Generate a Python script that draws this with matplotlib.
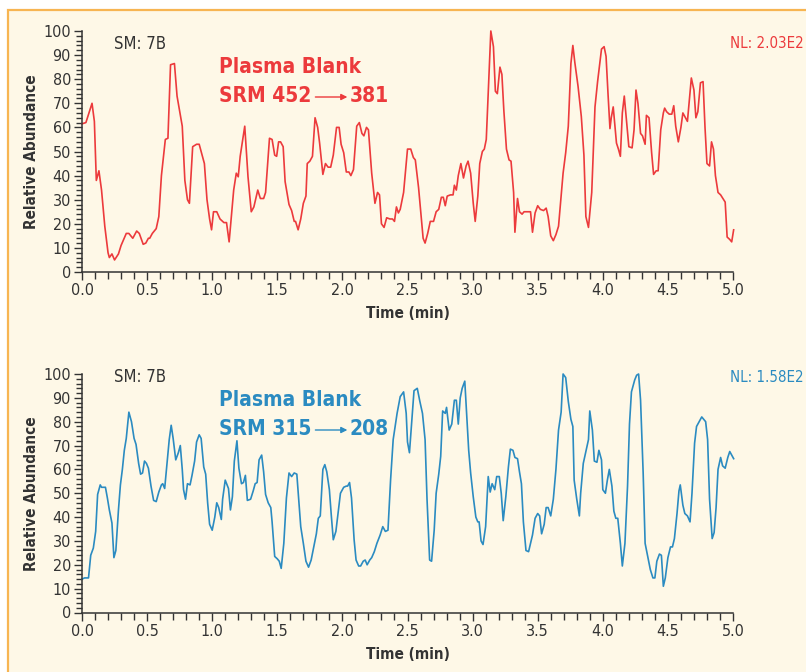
import matplotlib
matplotlib.use("Agg")
import matplotlib.pyplot as plt
from matplotlib import font_manager
from matplotlib.patches import Rectangle, FancyArrowPatch
from matplotlib.ticker import MultipleLocator

# pick a condensed font if one is around
fonts = font_manager.fontManager.ttflist
names = {f.name for f in fonts}
if "Liberation Sans Narrow" in names:
    plt.rcParams['font.family'] = ['Liberation Sans Narrow', 'DejaVu Sans']
elif any(f.name == "DejaVu Sans" and str(f.stretch) == "condensed" for f in fonts):
    plt.rcParams['font.family'] = ['DejaVu Sans']
    plt.rcParams['font.stretch'] = 'condensed'
else:
    plt.rcParams['font.family'] = ['Roboto', 'DejaVu Sans']

# SRM 452 -> 381 trace (time in min, relative abundance)
t_452 = [0.0, 0.03, 0.077, 0.095, 0.11, 0.13, 0.15, 0.175, 0.2, 0.21, 0.23, 0.25, 0.28, 0.30,
         0.34, 0.36, 0.39, 0.42, 0.44, 0.47, 0.49, 0.51, 0.52, 0.54, 0.57, 0.59, 0.61, 0.64,
         0.66, 0.68, 0.71, 0.73, 0.77, 0.79, 0.81, 0.825, 0.85, 0.88, 0.90, 0.94, 0.96, 0.98,
         0.995, 1.01, 1.035, 1.06, 1.09, 1.11, 1.13, 1.15, 1.165, 1.185, 1.2, 1.215, 1.25,
         1.275, 1.30, 1.32, 1.35, 1.37, 1.395, 1.41, 1.44, 1.46, 1.48, 1.495, 1.51, 1.525,
         1.545, 1.56, 1.59, 1.61, 1.63, 1.64, 1.66, 1.68, 1.70, 1.72, 1.73, 1.75, 1.77, 1.79,
         1.81, 1.825, 1.85, 1.87, 1.89, 1.91, 1.93, 1.955, 1.975, 1.99, 2.01, 2.03, 2.05,
         2.065, 2.085, 2.11, 2.13, 2.15, 2.165, 2.185, 2.2, 2.225, 2.25, 2.27, 2.285, 2.30,
         2.32, 2.34, 2.365, 2.385, 2.40, 2.415, 2.43,
         2.444, 2.47, 2.5, 2.525, 2.545, 2.56, 2.585, 2.62, 2.635, 2.655, 2.675, 2.70, 2.72,
         2.74, 2.76, 2.775, 2.79, 2.805, 2.83, 2.85, 2.86, 2.875, 2.89, 2.91, 2.93, 2.95,
         2.965, 2.985, 3.005, 3.02, 3.04, 3.055, 3.075, 3.09, 3.105, 3.12, 3.14, 3.16, 3.175,
         3.19, 3.21, 3.225, 3.24, 3.26, 3.28, 3.295, 3.315, 3.325, 3.345, 3.36, 3.38, 3.395,
         3.43, 3.445, 3.46, 3.48, 3.5, 3.52, 3.545, 3.565, 3.58, 3.60, 3.62, 3.64, 3.66,
         3.675, 3.695, 3.715, 3.735, 3.755, 3.77, 3.785, 3.81, 3.835, 3.855, 3.87, 3.89,
         3.915, 3.94, 3.96, 3.98, 3.99, 4.01, 4.025, 4.04, 4.055, 4.065, 4.08, 4.105, 4.12,
         4.135, 4.15, 4.165, 4.18, 4.2, 4.225, 4.24, 4.255, 4.27, 4.29, 4.305, 4.325, 4.335,
         4.355, 4.375, 4.39, 4.41, 4.425, 4.445, 4.465, 4.475, 4.49, 4.51, 4.53, 4.545, 4.56,
         4.58, 4.6, 4.615, 4.63, 4.65, 4.665, 4.68, 4.70, 4.715, 4.73, 4.75, 4.77, 4.785,
         4.80, 4.82, 4.835, 4.85, 4.865, 4.885, 4.905, 4.94, 4.955, 4.975, 4.99, 5.005]
v_452 = [61.5, 62, 70, 62.5, 38, 42, 34, 19, 8, 6, 7.5, 5, 7.5, 11,
         16, 16, 14, 17, 16, 11.5, 12, 14, 14, 16, 18, 23, 40, 55,
         55.5, 86, 86.5, 73, 60.5, 38, 30, 28.5, 52, 53, 53, 45, 30, 22,
         17.5, 25, 25, 22, 20.5, 20.5, 12.5, 24.5, 34, 41, 39.5, 48, 60.5,
         39.5, 25, 27, 34, 30.5, 30.5, 33, 55.5, 55, 48.5, 48, 54, 54,
         52, 37.5, 28, 25.5, 21, 21, 17.5, 22, 28.5, 31.5, 45, 46, 48, 64,
         60, 53.5, 40.5, 45, 43.5, 43.5, 48.5, 60, 60, 53, 49.5, 41.5, 41.5,
         40, 42.5, 60.5, 62, 57.5, 56.5, 60, 59, 41, 28.5, 33, 32, 20,
         18.5, 22.5, 22, 22, 21, 27, 24.5,
         26, 33, 51, 51, 47.5, 46.5, 35, 14, 12, 16, 21, 21, 25,
         26, 31, 31, 27.5, 31.5, 32, 32, 36, 34, 40, 45, 39, 44,
         46, 41, 28.5, 21, 31.5, 45, 50, 51, 55, 74, 100, 93.5, 75,
         74, 85, 82, 67, 51, 46.5, 46, 33, 16.5, 30.5, 25, 24, 25,
         25, 25, 16.5, 24.5, 27.5, 26, 25.5, 26.5, 23, 15, 13, 15.5, 19,
         28.5, 41, 49.5, 60.5, 86.5, 94, 87, 77, 64.5, 48.5, 23, 18.5,
         33, 68.5, 79, 88, 92.5, 93.5, 89.5, 74, 59.5, 64, 68.5, 53.5, 51,
         48, 66, 73, 64, 52, 51.5, 59, 75.5, 70, 57.5, 56.5, 53, 65,
         64, 49.5, 40.5, 42, 42, 59, 66, 68, 66.5, 65.5, 65.5, 69, 60.5,
         54, 60, 66, 64.5, 62.5, 71.5, 80.5, 75.5, 64, 66.5, 78.5, 79, 60,
         45, 44, 54, 51, 40, 33, 32, 29, 14.5, 13.5, 12.5, 17.5]

# SRM 315 -> 208 trace
t_315 = [0.0, 0.02, 0.05, 0.067, 0.087, 0.105, 0.12, 0.14, 0.15, 0.18, 0.195, 0.21, 0.23, 0.245,
         0.26, 0.28, 0.295, 0.31, 0.325, 0.34, 0.36, 0.38, 0.40, 0.415, 0.435, 0.45, 0.465,
         0.48, 0.495, 0.51, 0.53, 0.55, 0.57, 0.59, 0.61, 0.62, 0.635, 0.65, 0.67, 0.685, 0.70,
         0.72, 0.74, 0.755, 0.77, 0.78, 0.795, 0.81, 0.83, 0.845, 0.865, 0.88, 0.90, 0.915,
         0.935, 0.95, 0.965, 0.98, 1.0, 1.02, 1.035, 1.05, 1.07, 1.08, 1.10, 1.125, 1.14,
         1.155, 1.17, 1.19, 1.205, 1.225, 1.24, 1.255, 1.27, 1.295, 1.315, 1.33, 1.345, 1.36,
         1.38, 1.395, 1.41, 1.43, 1.45, 1.46, 1.48, 1.50, 1.515, 1.53, 1.55, 1.57, 1.59, 1.61,
         1.63, 1.65, 1.665, 1.68, 1.70, 1.72, 1.74, 1.76, 1.78, 1.80, 1.815, 1.83, 1.85,
         1.865, 1.88, 1.90, 1.915, 1.93, 1.95, 1.97, 1.985, 2.01, 2.03, 2.04, 2.055, 2.07,
         2.09, 2.105, 2.125, 2.14, 2.16, 2.175, 2.19, 2.21, 2.225, 2.245, 2.265, 2.29, 2.31,
         2.33, 2.35, 2.37, 2.39, 2.42,
         2.444, 2.47, 2.49, 2.5, 2.515, 2.535, 2.55, 2.575, 2.595, 2.615, 2.635, 2.65, 2.67,
         2.685, 2.705, 2.72, 2.74, 2.755, 2.77, 2.79, 2.80, 2.82, 2.84, 2.86, 2.875, 2.89,
         2.905, 2.92, 2.94, 2.97, 2.985, 3.005, 3.025, 3.04, 3.05, 3.065, 3.08, 3.10, 3.12,
         3.135, 3.15, 3.17, 3.185, 3.205, 3.22, 3.235, 3.255, 3.275, 3.29, 3.31, 3.325,
         3.345, 3.36, 3.375, 3.39, 3.41, 3.43, 3.445, 3.46, 3.48, 3.50, 3.515, 3.53, 3.55,
         3.565, 3.58, 3.60, 3.62, 3.64, 3.66, 3.68, 3.695, 3.715, 3.735, 3.755, 3.77, 3.78,
         3.80, 3.82, 3.83, 3.85, 3.87, 3.89, 3.90, 3.92, 3.935, 3.955, 3.97, 3.99, 4.0, 4.02,
         4.035, 4.05, 4.07, 4.085, 4.10, 4.115, 4.135, 4.15, 4.17, 4.19, 4.205, 4.22, 4.245,
         4.26, 4.275, 4.29, 4.31, 4.325, 4.345, 4.365, 4.385, 4.40, 4.415, 4.435, 4.45,
         4.465, 4.48, 4.50, 4.52, 4.535, 4.55, 4.57, 4.585, 4.595, 4.615, 4.63, 4.65, 4.67,
         4.685, 4.705, 4.72, 4.74, 4.76, 4.775, 4.79, 4.805, 4.82, 4.84, 4.855, 4.87, 4.885,
         4.905, 4.92, 4.94, 4.96, 4.975, 4.99, 5.005]
v_315 = [14, 14.5, 14.5, 24, 27, 34, 49.5, 53.5, 52.5, 52.5, 48, 43, 37.5, 23,
         26, 43, 53.5, 60, 68, 73, 84, 80, 73, 70.5, 62.5, 58, 58.5,
         63.5, 62.5, 60.5, 53, 47, 46.5, 50.5, 53.5, 54, 52, 61, 72.5, 78.5, 73,
         64, 67, 70, 60, 51.5, 47.5, 54, 53.5, 57.5, 63.5, 71.5, 74.5, 73,
         61, 58, 46, 37, 34.5, 40, 46, 44, 39, 47.5, 55.5, 52, 43,
         48.5, 63.5, 72, 60.5, 54, 54.5, 57.5, 47, 47.5, 51, 54, 54.5, 64,
         66, 59, 49.5, 46, 44, 38, 23.5, 22.5, 21.5, 18.5, 29, 48, 58.5, 57,
         58.5, 58, 47, 36, 29, 21.5, 19, 22, 27.5, 33, 39.5, 40.5, 60,
         62, 59, 51.5, 40.5, 30.5, 34, 43, 50, 52.5, 53, 53, 54.5, 48,
         30.5, 22, 19.5, 19.5, 21.5, 22, 20, 22, 23, 25.5, 29, 32.5, 36,
         34, 34.5, 55.5, 72.5, 83.5,
         90.5, 92.5, 83.5, 71.5, 67, 82, 93, 94, 88.5, 83.5, 72.5, 47.5, 22,
         21.5, 34.5, 50, 58, 65.5, 84.5, 83.5, 86, 76.5, 79, 89, 89, 79,
         90, 94, 97, 68, 58.5, 48.5, 40, 38, 38, 30, 28.5, 36, 57,
         50.5, 54, 51.5, 57, 57, 50, 38.5, 48.5, 61, 68.5, 68, 65,
         64.5, 59, 54, 38, 26, 25.5, 29, 32.5, 39.5, 41.5, 40.5, 33, 37,
         44, 44, 40.5, 47.5, 60, 76.5, 84, 100, 98.5, 88.5, 81, 78, 55.5,
         47.5, 40.5, 50, 62.5, 67.5, 72.5, 84.5, 76.5, 63.5, 63, 68, 64, 51.5, 50,
         55.5, 60, 53, 42.5, 39.5, 39.5, 29, 19.5, 29, 53, 79, 92.5, 97.5,
         99.5, 100, 89, 58.5, 29, 23.5, 18, 14.5, 14.5, 21.5, 24.5, 24,
         11, 14.5, 23, 27.5, 27.5, 31, 41.5, 51, 53.5, 45, 41.5, 40.5, 38,
         50, 71, 78, 80, 82, 81, 80, 72.5, 47.5, 31, 33.5, 44, 60,
         65, 61.5, 60.5, 65, 67.5, 66, 64.5]

RED = "#ec3a3c"
BLUE = "#2b8bc1"
INK = "#333333"
W, H = 806, 672


def fx(px):
    return px / W


def fy(py):
    return 1 - py / H


fig = plt.figure(figsize=(W / 100, H / 100), dpi=100, facecolor="white")
renderer = fig.canvas.get_renderer()

# cream panel with orange rule on left and top
fig.patches.append(Rectangle((fx(8), -0.1), 1.2, fy(10) + 0.1, transform=fig.transFigure,
                             facecolor="#fef8e7", edgecolor="#f7b552", linewidth=1.6, zorder=-5))


def panel(rect, t, v, color, srm_a, srm_b, nl, text_y):
    ax = fig.add_axes(rect)
    ax.patch.set_visible(False)
    ax.plot(t, v, color=color, lw=1.2, solid_joinstyle="round", clip_on=False)
    ax.set_xlim(0, 5.0)
    ax.set_ylim(0, 100)
    ax.xaxis.set_major_locator(MultipleLocator(0.5))
    ax.xaxis.set_minor_locator(MultipleLocator(0.1))
    ax.yaxis.set_major_locator(MultipleLocator(10))
    ax.yaxis.set_minor_locator(MultipleLocator(2))
    ax.xaxis.set_major_formatter(lambda x, p: f"{x:.1f}")
    for s in ["top", "right"]:
        ax.spines[s].set_visible(False)
    for s in ["left", "bottom"]:
        ax.spines[s].set_color(INK)
        ax.spines[s].set_linewidth(1.1)
    ax.tick_params(which="both", direction="out", color=INK, width=1.0, labelcolor=INK)
    ax.tick_params(which="major", length=6, labelsize=11.5, pad=2)
    ax.tick_params(axis="y", which="minor", length=4)
    ax.tick_params(axis="x", which="minor", length=5)
    ax.set_ylabel("Relative Abundance", fontsize=11, fontweight="bold", color=INK, labelpad=3)
    ax.set_xlabel("Time (min)", fontsize=11, fontweight="bold", color=INK, labelpad=6)

    fig.text(fx(114), fy(text_y), "SM: 7B", fontsize=12, color=INK, va="center")
    fig.text(fx(730), fy(text_y), nl, fontsize=10.8, color=color, va="center")
    fig.text(fx(219), fy(text_y + 23), "Plasma Blank", fontsize=15, fontweight="bold",
             color=color, va="center")
    a = fig.text(fx(219), fy(text_y + 52), srm_a, fontsize=15, fontweight="bold",
                 color=color, va="center")
    x_end = a.get_window_extent(renderer).x1
    x0, x1 = x_end + 4, x_end + 36
    fig.add_artist(FancyArrowPatch((x0 / W, fy(text_y + 53)), (x1 / W, fy(text_y + 53)),
                                   transform=fig.transFigure, arrowstyle="-|>",
                                   mutation_scale=9, color=color, lw=1.0,
                                   shrinkA=0, shrinkB=0))
    fig.text((x1 + 2) / W, fy(text_y + 52), srm_b, fontsize=15, fontweight="bold",
             color=color, va="center")
    return ax


panel([fx(82), fy(272), fx(733) - fx(82), fy(31) - fy(272)], t_452, v_452, RED,
      "SRM 452", "381", "NL: 2.03E2", 44)
panel([fx(82), fy(612.5), fx(733) - fx(82), fy(374) - fy(612.5)], t_315, v_315, BLUE,
      "SRM 315", "208", "NL: 1.58E2", 377)

fig.savefig("out.png", dpi=100, facecolor="white")
